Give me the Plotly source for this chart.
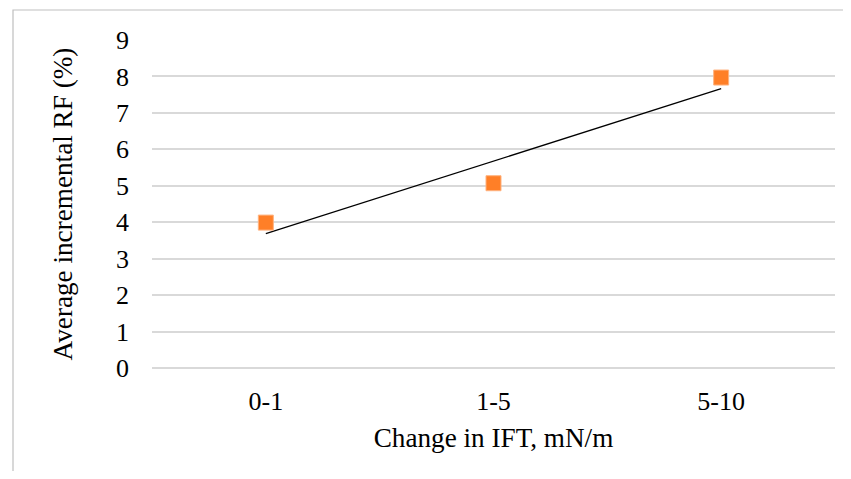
import numpy as np
import plotly.graph_objects as go

categories = ["0-1", "1-5", "5-10"]
rf_values = [3.99, 5.07, 7.97]
y_ticks = [0, 1, 2, 3, 4, 5, 6, 7, 8, 9]

xi = np.arange(len(categories))
slope, intercept = np.polyfit(xi, rf_values, 1)
trend = slope * xi + intercept

fig = go.Figure()
fig.add_trace(go.Scatter(
    x=categories, y=trend, mode="lines",
    line=dict(color="black", width=1.2), showlegend=False, hoverinfo="skip"))
fig.add_trace(go.Scatter(
    x=categories, y=rf_values, mode="markers",
    marker=dict(symbol="square", size=15, color="#ff7f27",
                line=dict(color="#ffb27f", width=1)),
    showlegend=False))

font_family = "Liberation Serif"
# page body has an 8px margin, so the figure is sized/offset to compensate
W, H = 835, 463
L, R, T, B = 144, 8, 32, 103
pw, ph = W - L - R, H - T - B
tick_font = dict(family=font_family, size=26, color="black")
title_font = dict(family=font_family, size=27.2, color="black")

fig.update_layout(
    width=W, height=H,
    margin=dict(l=L, r=R, t=T, b=B, autoexpand=False),
    paper_bgcolor="white", plot_bgcolor="white",
    font=dict(family=font_family, color="black", size=26),
    xaxis=dict(
        type="category", range=[-0.5, 2.5], showgrid=False, zeroline=False,
        showline=False, ticks="", ticklabelstandoff=15, automargin=False,
        tickfont=tick_font,
        title=dict(text="Change in IFT, mN/m", font=title_font, standoff=12),
    ),
    yaxis=dict(
        range=[0, 9], tickvals=y_ticks, showgrid=True, gridcolor="#d9d9d9",
        gridwidth=1.5, zeroline=True, zerolinecolor="#d9d9d9", zerolinewidth=1.5,
        showline=False, ticks="", ticklabelstandoff=22, automargin=False,
        tickfont=tick_font,
        title=dict(text="Average incremental RF (%)", font=title_font, standoff=35),
    ),
    shapes=[dict(
        type="rect", xref="paper", yref="paper",
        x0=(5 - L) / pw, x1=(W + 20 - L) / pw,
        y0=-(B + 20) / ph, y1=(H - B - 2) / ph,
        line=dict(color="#bfbfbf", width=1.2), fillcolor="rgba(0,0,0,0)",
        layer="below")],
)

fig.write_html("out.html")
